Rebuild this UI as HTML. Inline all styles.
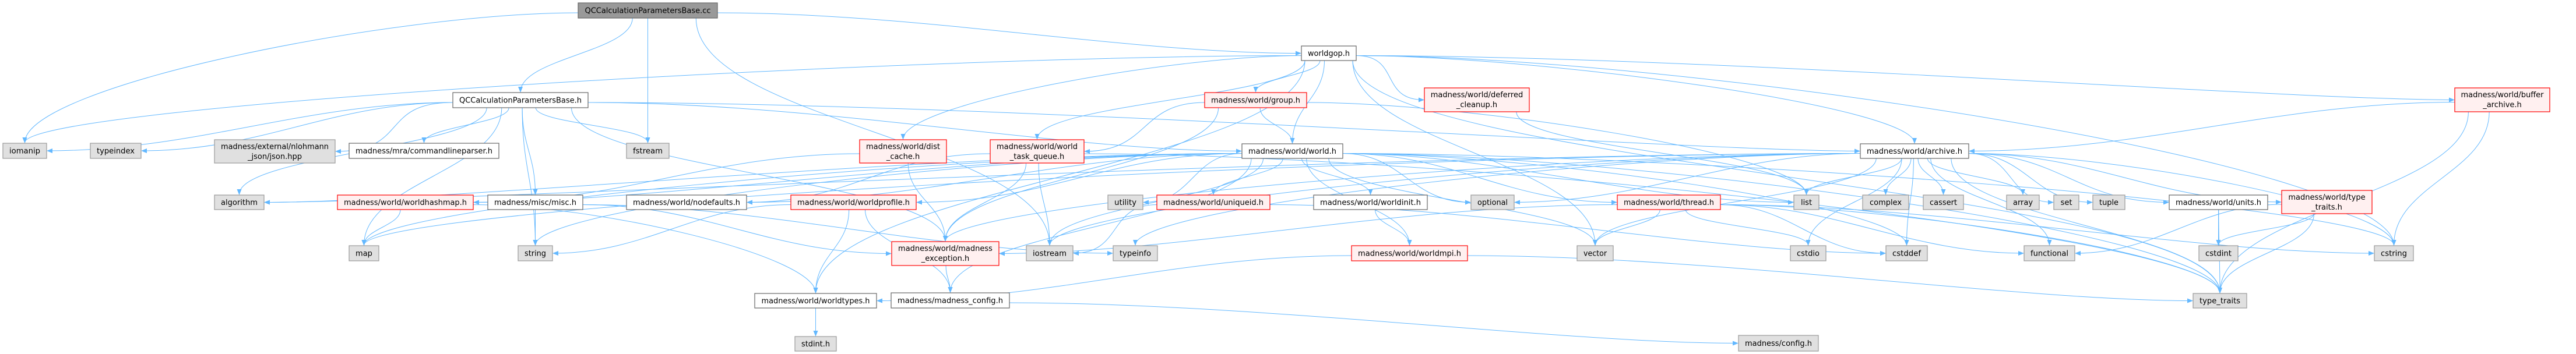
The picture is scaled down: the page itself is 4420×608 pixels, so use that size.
<!DOCTYPE html>
<html><head><meta charset="utf-8"><style>
html,body{margin:0;padding:0;background:#fff;width:4420px;height:608px;overflow:hidden}
svg{display:block}
text{font-family:"DejaVu Sans","Liberation Sans",sans-serif;font-size:13px;fill:#000}
.w{fill:#fff;stroke:#666;stroke-width:1.2}
.g{fill:#e0e0e0;stroke:#999;stroke-width:1.2}
.r{fill:#fff0f0;stroke:#f00;stroke-width:1.2}
.d{fill:#999;stroke:#666;stroke-width:1.2}
</style></head><body>
<svg id="s" width="4420" height="608" viewBox="0 0 4420 608" xmlns="http://www.w3.org/2000/svg">
<defs><marker id="a" viewBox="0 0 10 10" refX="9" refY="5" markerWidth="10" markerHeight="10" markerUnits="userSpaceOnUse" orient="auto"><path d="M0,1 L10,5 L0,9 z" fill="#63b8ff"/></marker></defs>
<g id="edges" fill="none" stroke="#63b8ff" stroke-width="1"></g>
<g id="nodes">
<rect class="d" x="992" y="5" width="239" height="26"/><text x="1111.5" y="22.5" text-anchor="middle" textLength="216" lengthAdjust="spacingAndGlyphs">QCCalculationParametersBase.cc</text>
<rect class="w" x="777" y="159" width="232" height="26"/><text x="893" y="176.5" text-anchor="middle" textLength="210" lengthAdjust="spacingAndGlyphs">QCCalculationParametersBase.h</text>
<rect class="w" x="2233" y="79" width="94" height="25"/><text x="2280" y="96" text-anchor="middle" textLength="72" lengthAdjust="spacingAndGlyphs">worldgop.h</text>
<rect class="g" x="5" y="246" width="75" height="26"/><text x="42.5" y="263.5" text-anchor="middle" textLength="53" lengthAdjust="spacingAndGlyphs">iomanip</text>
<rect class="g" x="155" y="246" width="87" height="26"/><text x="198.5" y="263.5" text-anchor="middle" textLength="65" lengthAdjust="spacingAndGlyphs">typeindex</text>
<rect class="g" x="368" y="240" width="207" height="40"/><text x="471.5" y="256" text-anchor="middle" textLength="185" lengthAdjust="spacingAndGlyphs">madness/external/nlohmann</text><text x="471.5" y="273" text-anchor="middle">_json/json.hpp</text>
<rect class="w" x="599" y="246" width="257" height="26"/><text x="727.5" y="263.5" text-anchor="middle" textLength="235" lengthAdjust="spacingAndGlyphs">madness/mra/commandlineparser.h</text>
<rect class="g" x="1075" y="246" width="73" height="26"/><text x="1111.5" y="263.5" text-anchor="middle" textLength="51" lengthAdjust="spacingAndGlyphs">fstream</text>
<rect class="r" x="1475" y="240" width="149" height="40"/><text x="1549.5" y="256" text-anchor="middle">madness/world/dist</text><text x="1549.5" y="273" text-anchor="middle">_cache.h</text>
<rect class="r" x="1699" y="240" width="161" height="40"/><text x="1779.5" y="256" text-anchor="middle">madness/world/world</text><text x="1779.5" y="273" text-anchor="middle">_task_queue.h</text>
<rect class="r" x="2067" y="159" width="175" height="26"/><text x="2154.5" y="176.5" text-anchor="middle" textLength="153" lengthAdjust="spacingAndGlyphs">madness/world/group.h</text>
<rect class="r" x="2444" y="151" width="180" height="41"/><text x="2534" y="167" text-anchor="middle">madness/world/deferred</text><text x="2534" y="184" text-anchor="middle">_cleanup.h</text>
<rect class="w" x="2131" y="247" width="173" height="25"/><text x="2217.5" y="264" text-anchor="middle" textLength="151" lengthAdjust="spacingAndGlyphs">madness/world/world.h</text>
<rect class="w" x="3192" y="247" width="186" height="25"/><text x="3285" y="264" text-anchor="middle" textLength="164" lengthAdjust="spacingAndGlyphs">madness/world/archive.h</text>
<rect class="r" x="4212" y="151" width="163" height="41"/><text x="4293.5" y="167" text-anchor="middle">madness/world/buffer</text><text x="4293.5" y="184" text-anchor="middle">_archive.h</text>
<rect class="g" x="368" y="335" width="85" height="25"/><text x="410.5" y="352" text-anchor="middle" textLength="63" lengthAdjust="spacingAndGlyphs">algorithm</text>
<rect class="r" x="579" y="335" width="233" height="25"/><text x="695.5" y="352" text-anchor="middle" textLength="211" lengthAdjust="spacingAndGlyphs">madness/world/worldhashmap.h</text>
<rect class="w" x="837" y="335" width="163" height="25"/><text x="918.5" y="352" text-anchor="middle" textLength="141" lengthAdjust="spacingAndGlyphs">madness/misc/misc.h</text>
<rect class="w" x="1075" y="335" width="206" height="25"/><text x="1178" y="352" text-anchor="middle" textLength="184" lengthAdjust="spacingAndGlyphs">madness/world/nodefaults.h</text>
<rect class="r" x="1357" y="335" width="215" height="25"/><text x="1464.5" y="352" text-anchor="middle" textLength="193" lengthAdjust="spacingAndGlyphs">madness/world/worldprofile.h</text>
<rect class="g" x="1901" y="335" width="60" height="25"/><text x="1931" y="352" text-anchor="middle" textLength="38" lengthAdjust="spacingAndGlyphs">utility</text>
<rect class="r" x="1985" y="335" width="194" height="25"/><text x="2082" y="352" text-anchor="middle" textLength="172" lengthAdjust="spacingAndGlyphs">madness/world/uniqueid.h</text>
<rect class="w" x="2254" y="335" width="195" height="25"/><text x="2351.5" y="352" text-anchor="middle" textLength="173" lengthAdjust="spacingAndGlyphs">madness/world/worldinit.h</text>
<rect class="g" x="2524" y="335" width="74" height="25"/><text x="2561" y="352" text-anchor="middle" textLength="52" lengthAdjust="spacingAndGlyphs">optional</text>
<rect class="r" x="2775" y="335" width="177" height="25"/><text x="2863.5" y="352" text-anchor="middle" textLength="155" lengthAdjust="spacingAndGlyphs">madness/world/thread.h</text>
<rect class="g" x="3078" y="335" width="43" height="25"/><text x="3099.5" y="352" text-anchor="middle">list</text>
<rect class="g" x="3196" y="335" width="79" height="25"/><text x="3235.5" y="352" text-anchor="middle" textLength="55" lengthAdjust="spacingAndGlyphs">complex</text>
<rect class="g" x="3300" y="335" width="69" height="25"/><text x="3334.5" y="352" text-anchor="middle" textLength="47" lengthAdjust="spacingAndGlyphs">cassert</text>
<rect class="g" x="3443" y="335" width="56" height="25"/><text x="3471" y="352" text-anchor="middle" textLength="34" lengthAdjust="spacingAndGlyphs">array</text>
<rect class="g" x="3524" y="335" width="43" height="25"/><text x="3545.5" y="352" text-anchor="middle">set</text>
<rect class="g" x="3591" y="335" width="55" height="25"/><text x="3618.5" y="352" text-anchor="middle" textLength="33" lengthAdjust="spacingAndGlyphs">tuple</text>
<rect class="w" x="3722" y="335" width="169" height="25"/><text x="3806.5" y="352" text-anchor="middle" textLength="147" lengthAdjust="spacingAndGlyphs">madness/world/units.h</text>
<rect class="r" x="3915" y="327" width="155" height="40"/><text x="3992.5" y="343" text-anchor="middle">madness/world/type</text><text x="3992.5" y="360" text-anchor="middle">_traits.h</text>
<rect class="g" x="599" y="422" width="51" height="26"/><text x="624.5" y="439.5" text-anchor="middle">map</text>
<rect class="g" x="889" y="422" width="59" height="26"/><text x="918.5" y="439.5" text-anchor="middle" textLength="37" lengthAdjust="spacingAndGlyphs">string</text>
<rect class="r" x="1530" y="415" width="184" height="41"/><text x="1622" y="431" text-anchor="middle">madness/world/madness</text><text x="1622" y="448" text-anchor="middle">_exception.h</text>
<rect class="g" x="1761" y="422" width="80" height="26"/><text x="1801" y="439.5" text-anchor="middle" textLength="58" lengthAdjust="spacingAndGlyphs">iostream</text>
<rect class="g" x="1910" y="422" width="76" height="26"/><text x="1948" y="439.5" text-anchor="middle" textLength="54" lengthAdjust="spacingAndGlyphs">typeinfo</text>
<rect class="r" x="2319" y="422" width="199" height="26"/><text x="2418.5" y="439.5" text-anchor="middle" textLength="177" lengthAdjust="spacingAndGlyphs">madness/world/worldmpi.h</text>
<rect class="g" x="2706" y="422" width="62" height="26"/><text x="2737" y="439.5" text-anchor="middle" textLength="40" lengthAdjust="spacingAndGlyphs">vector</text>
<rect class="g" x="3072" y="422" width="61" height="26"/><text x="3102.5" y="439.5" text-anchor="middle" textLength="39" lengthAdjust="spacingAndGlyphs">cstdio</text>
<rect class="g" x="3236" y="422" width="71" height="26"/><text x="3271.5" y="439.5" text-anchor="middle" textLength="49" lengthAdjust="spacingAndGlyphs">cstddef</text>
<rect class="g" x="3473" y="422" width="87" height="26"/><text x="3516.5" y="439.5" text-anchor="middle" textLength="65" lengthAdjust="spacingAndGlyphs">functional</text>
<rect class="g" x="3773" y="422" width="67" height="26"/><text x="3806.5" y="439.5" text-anchor="middle" textLength="45" lengthAdjust="spacingAndGlyphs">cstdint</text>
<rect class="g" x="4074" y="422" width="67" height="26"/><text x="4107.5" y="439.5" text-anchor="middle" textLength="45" lengthAdjust="spacingAndGlyphs">cstring</text>
<rect class="w" x="1295" y="504" width="209" height="25"/><text x="1399.5" y="521" text-anchor="middle" textLength="186" lengthAdjust="spacingAndGlyphs">madness/world/worldtypes.h</text>
<rect class="w" x="1529" y="503" width="203" height="26"/><text x="1630.5" y="520.5" text-anchor="middle" textLength="181" lengthAdjust="spacingAndGlyphs">madness/madness_config.h</text>
<rect class="g" x="3763" y="504" width="92" height="25"/><text x="3809" y="521" text-anchor="middle" textLength="70" lengthAdjust="spacingAndGlyphs">type_traits</text>
<rect class="g" x="1364" y="578" width="71" height="25"/><text x="1399.5" y="595" text-anchor="middle" textLength="49" lengthAdjust="spacingAndGlyphs">stdint.h</text>
<rect class="g" x="2983" y="576" width="137" height="27"/><text x="3051.5" y="594" text-anchor="middle" textLength="115" lengthAdjust="spacingAndGlyphs">madness/config.h</text>
</g>
</svg>
<script>
var N={cc:[992,5,1231,31],qch:[777,159,1009,185],gop:[2233,79,2327,104],iomanip:[5,246,80,272],typeindex:[155,246,242,272],json:[368,240,575,280],cmdl:[599,246,856,272],fstream:[1075,246,1148,272],dc:[1475,240,1624,280],wtq:[1699,240,1860,280],group:[2067,159,2242,185],def:[2444,151,2624,192],world:[2131,247,2304,272],arch:[3192,247,3378,272],buf:[4212,151,4375,192],algorithm:[368,335,453,360],whm:[579,335,812,360],misc:[837,335,1000,360],nodef:[1075,335,1281,360],wprof:[1357,335,1572,360],utility:[1901,335,1961,360],uid:[1985,335,2179,360],winit:[2254,335,2449,360],optional:[2524,335,2598,360],thread:[2775,335,2952,360],list:[3078,335,3121,360],complex:[3196,335,3275,360],cassert:[3300,335,3369,360],array:[3443,335,3499,360],set:[3524,335,3567,360],tuple:[3591,335,3646,360],units:[3722,335,3891,360],ttr:[3915,327,4070,367],map:[599,422,650,448],string:[889,422,948,448],mexc:[1530,415,1714,456],iostream:[1761,422,1841,448],typeinfo:[1910,422,1986,448],wmpi:[2319,422,2518,448],vector:[2706,422,2768,448],cstdio:[3072,422,3133,448],cstddef:[3236,422,3307,448],functional:[3473,422,3560,448],cstdint:[3773,422,3840,448],cstring:[4074,422,4141,448],wtypes:[1295,504,1504,529],mcfg:[1529,503,1732,529],tt:[3763,504,3855,529],stdint:[1364,578,1435,603],config:[2983,576,3120,603]};
var E="cc-iomanip cc-qch cc-fstream cc-gop cc-iostream qch-iomanip qch-typeindex qch-json qch-cmdl qch-algorithm qch-map qch-misc qch-fstream qch-world qch-arch qch-mexc qch-string gop-group gop-world gop-def gop-dc gop-wtq gop-arch gop-buf gop-wtypes gop-tt gop-cstring gop-vector gop-iomanip group-world group-wtq group-mexc group-list def-list world-algorithm world-whm world-nodef world-wprof world-utility world-uid world-winit world-optional world-wmpi world-thread world-list world-cstddef world-iostream world-mcfg world-vector world-tt world-cstring world-map world-string dc-mexc dc-whm wtq-iostream wtq-tt wtq-mexc wtq-nodef arch-list arch-complex arch-cassert arch-array arch-set arch-tuple arch-units arch-ttr arch-cstdio arch-cstddef arch-functional arch-cstring arch-tt arch-mexc arch-typeinfo arch-iostream arch-vector arch-map arch-algorithm arch-optional whm-map whm-wtypes misc-string misc-mexc misc-typeinfo wprof-wtypes wprof-mcfg wprof-string uid-iostream uid-cstddef winit-wmpi wmpi-wtypes wmpi-tt thread-mexc thread-cstdio thread-cstddef thread-functional thread-cstring thread-tt thread-vector units-cstdint units-tt ttr-cstdint ttr-tt ttr-functional buf-arch buf-cstring buf-tt mexc-mcfg mcfg-config wtypes-stdint".split(" ");
var g=document.getElementById("edges"),h="";
E.forEach(function(e){var p=e.split("-"),s=N[p[0]],d=N[p[1]];if(!s||!d)return;
var scx=(s[0]+s[2])/2,dcx=(d[0]+d[2])/2,w=(s[2]-s[0])/2-6;
var gap=d[1]-s[3],hd=Math.abs(dcx-scx),right=dcx>scx;
var sx,sy,dx,dy,c1x,c1y,c2x,c2y;
if(hd>4*gap && (right? d[0]>s[2] : d[2]<s[0])){
  sx=right?s[2]:s[0]; sy=(s[1]+s[3])/2+4;
  c1x=sx+(right?1:-1)*hd*0.3; c1y=sy;
} else {
  var off=(dcx-scx)*0.12;if(off>w)off=w;if(off<-w)off=-w;
  sx=scx+off; sy=s[3]; c1x=sx; c1y=sy+gap*0.45;
}
if(hd>4*gap && gap<110 && (right? d[0]>s[2] : d[2]<s[0])){
  dx=right?d[0]-1:d[2]+1; dy=(d[1]+d[3])/2;
  c2x=dx-(right?1:-1)*Math.min(hd*0.3,300); c2y=dy;
} else {
  dx=dcx; dy=d[1]-1; c2x=dx; c2y=dy-Math.max(gap,40)*0.45;
}
h+='<path d="M'+sx+','+sy+' C'+c1x+','+c1y+' '+c2x+','+c2y+' '+dx+','+dy+'" marker-end="url(#a)"/>';});
g.innerHTML=h;
</script>
</body></html>
